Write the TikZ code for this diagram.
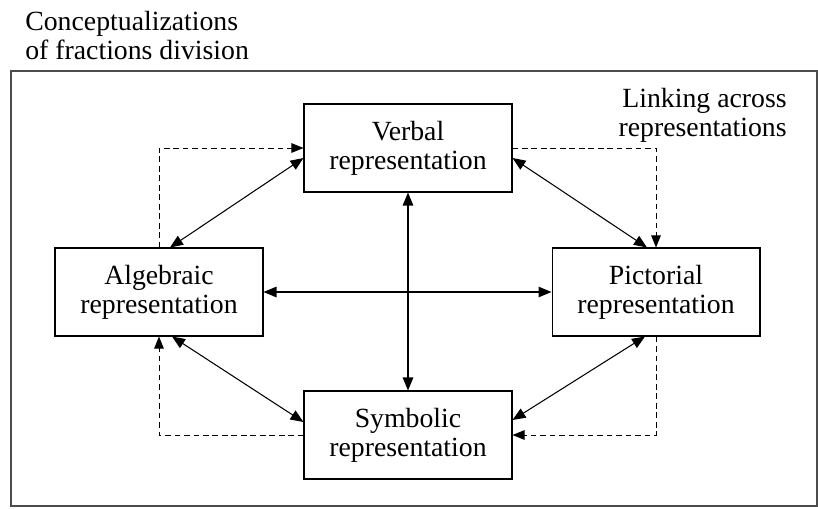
\documentclass[tikz,border=0pt]{standalone}
\usepackage{fontspec}
\setmainfont{Liberation Serif}
\usetikzlibrary{arrows.meta}
\begin{document}
\begin{tikzpicture}[x=0.02cm, y=-0.02cm,
  every node/.style={font=\fontsize{15.8}{16.4}\selectfont},
  repbox/.style={draw, line width=0.6pt, align=center, minimum width=4.16cm, minimum height=1.76cm},
  link/.style={line width=0.6pt, {Triangle[length=0.26cm,width=0.21cm]}-{Triangle[length=0.26cm,width=0.21cm]}},
  dashlink/.style={line width=0.55pt, dash pattern=on 3.2pt off 2.2pt, -{Triangle[length=0.24cm,width=0.19cm]}}]
  \useasboundingbox (0,0) rectangle (818,508);
  % Frame and labels
  \draw[line width=0.7pt, black!70] (11,71) rectangle (817,506);
  \node[anchor=north west, inner sep=0, align=left] (title) at (25,11) {Conceptualizations\\of fractions division};
  \node[anchor=north east, inner sep=0, align=right] (linking) at (787,88) {Linking across\\representations};
  % Representations
  \node[repbox] (verb) at (408,148) {Verbal\\representation};
  \node[repbox] (alg) at (159,292) {Algebraic\\representation};
  \node[repbox] (pict) at (656,292) {Pictorial\\representation};
  \node[repbox] (symb) at (408,435) {Symbolic\\representation};
  % Links
  \draw[link] ([xshift=0.22cm]alg.north) -- ([yshift=-0.2cm]verb.west);
  \draw[link] ([yshift=-0.2cm]verb.east) -- ([xshift=-0.18cm]pict.north);
  \draw[link] ([xshift=0.26cm]alg.south) -- ([yshift=0.26cm]symb.west);
  \draw[link] ([xshift=-0.22cm]pict.south) -- ([yshift=0.3cm]symb.east);
  \draw[link] (alg.east) -- (pict.west);
  \draw[link] (verb.south) -- (symb.north);
  % Dashed paths
  \draw[dashlink] (alg.north) |- (verb.west);
  \draw[dashlink] (verb.east) -| (pict.north);
  \draw[dashlink] (symb.west) -| (alg.south);
  \draw[dashlink] (pict.south) |- (symb.east);
\end{tikzpicture}
\end{document}
